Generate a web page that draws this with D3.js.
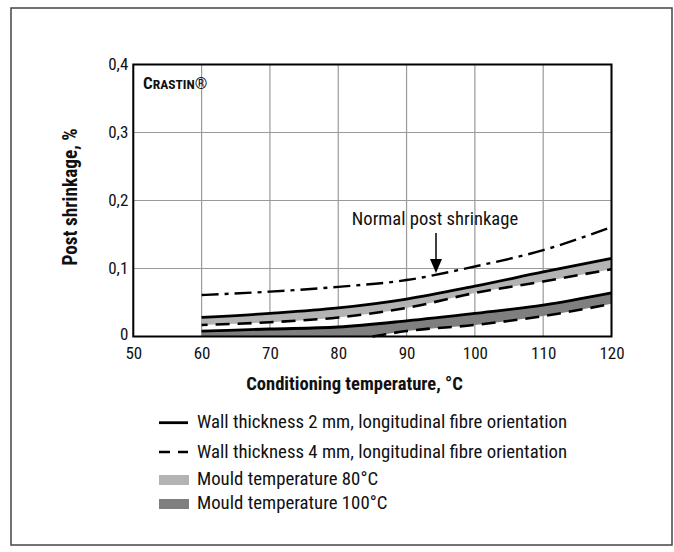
<!DOCTYPE html>
<html><head><meta charset="utf-8">
<script src="https://cdn.jsdelivr.net/npm/d3@7"></script>
<style>
html,body{margin:0;padding:0;background:#fff;}
svg text{font-family:"Liberation Sans Narrow","Roboto Condensed","Arial Narrow",sans-serif;fill:#111;}
</style></head><body>
<svg id="c" width="674" height="552"></svg>
<script>
// ---- data ----
const temps = [60, 70, 80, 90, 100, 110, 120];
const normalPost = [0.061, 0.066, 0.073, 0.083, 0.103, 0.127, 0.161];
const wall2Mould80 = [0.028, 0.034, 0.042, 0.055, 0.074, 0.095, 0.115];
const wall4Mould80 = [0.017, 0.021, 0.028, 0.042, 0.064, 0.081, 0.099];
const wall2Mould100 = [0.008, 0.011, 0.014, 0.023, 0.034, 0.046, 0.064];
const temps4Mould100 = [85, 90, 100, 110, 120];
const wall4Mould100 = [0.0, 0.008, 0.017, 0.030, 0.048];
const xTicks = [50, 60, 70, 80, 90, 100, 110, 120];
const yTicks = [0, 0.1, 0.2, 0.3, 0.4];
const yTickLabels = ["0", "0,1", "0,2", "0,3", "0,4"];
const legendItems = ["Wall thickness 2 mm, longitudinal fibre orientation",
  "Wall thickness 4 mm, longitudinal fibre orientation",
  "Mould temperature 80°C", "Mould temperature 100°C"];

const svg = d3.select("#c");
const L = 133.3, R = 611.5, T = 64.5, B = 336.5;
const x = d3.scaleLinear().domain([50, 120]).range([L, R]);
const y = d3.scaleLinear().domain([0, 0.4]).range([B, T]);

// outer frame
svg.append("rect").attr("x", 11).attr("y", 8).attr("width", 661).attr("height", 537)
  .attr("fill", "none").attr("stroke", "#444").attr("stroke-width", 1.5);

// grid
const g = svg.append("g");
g.selectAll("line.vx").data(xTicks).join("line")
  .attr("x1", d => x(d)).attr("x2", d => x(d)).attr("y1", T).attr("y2", B)
  .attr("stroke", "#9a9a9a").attr("stroke-width", 1.2);
g.selectAll("line.hy").data(yTicks).join("line")
  .attr("y1", d => y(d)).attr("y2", d => y(d)).attr("x1", L).attr("x2", R)
  .attr("stroke", "#9a9a9a").attr("stroke-width", 1.2);

const curve = d3.curveMonotoneX;
const pts = (xs, ys) => xs.map((t, i) => [t, ys[i]]);

// bands
const area = d3.area().x(d => x(d[0])).y0(d => y(d[2])).y1(d => y(d[1])).curve(curve);
g.append("path").datum(temps.map((t, i) => [t, wall2Mould80[i], wall4Mould80[i]]))
  .attr("d", area).attr("fill", "#b3b3b3");
const line = d3.line().x(d => x(d[0])).y(d => y(d[1])).curve(curve);
const topD = line(pts(temps, wall2Mould100));
const botD = line(pts(temps4Mould100, wall4Mould100).reverse());
g.append("path")
  .attr("d", topD + "L" + botD.slice(1) + "L" + x(temps[0]) + "," + y(0) + "Z")
  .attr("fill", "#7f7f7f");

// lines
g.append("path").attr("d", line(pts(temps, normalPost))).attr("fill", "none")
  .attr("stroke", "#000").attr("stroke-width", 2.4).attr("stroke-dasharray", "17,6,4,6");
g.append("path").attr("d", line(pts(temps, wall2Mould80))).attr("fill", "none")
  .attr("stroke", "#000").attr("stroke-width", 2.8);
g.append("path").attr("d", line(pts(temps, wall4Mould80))).attr("fill", "none")
  .attr("stroke", "#000").attr("stroke-width", 2.6).attr("stroke-dasharray", "14,8")
  .attr("stroke-dashoffset", -14);
g.append("path").attr("d", line(pts(temps, wall2Mould100))).attr("fill", "none")
  .attr("stroke", "#000").attr("stroke-width", 2.8);
g.append("path").attr("d", line(pts(temps4Mould100, wall4Mould100))).attr("fill", "none")
  .attr("stroke", "#000").attr("stroke-width", 2.6).attr("stroke-dasharray", "14,8");

// plot frame
svg.append("rect").attr("x", L).attr("y", T).attr("width", R - L).attr("height", B - T)
  .attr("fill", "none").attr("stroke", "#000").attr("stroke-width", 2);

// axes
const xAxis = d3.axisBottom(x).tickValues(xTicks).tickSize(0).tickPadding(10).tickFormat(d3.format("d"));
const xa = svg.append("g").attr("transform", `translate(0,${B})`).call(xAxis);
xa.select(".domain").remove();
xa.selectAll("text").attr("font-size", 17).attr("fill", "#111");
const yAxis = d3.axisLeft(y).tickValues(yTicks).tickSize(0).tickPadding(5)
  .tickFormat((d, i) => yTickLabels[i]);
const ya = svg.append("g").attr("transform", `translate(${L},0)`).call(yAxis);
ya.select(".domain").remove();
ya.selectAll("text").attr("font-size", 17).attr("fill", "#111")
  .attr("dy", (d, i) => i === 0 ? "0.2em" : "0.32em");

svg.append("text").attr("x", 354.5).attr("y", 390).attr("text-anchor", "middle")
  .attr("font-size", 18.6).attr("font-weight", "bold").text("Conditioning temperature, °C");
svg.append("text").attr("transform", `translate(77,197) rotate(-90)`).attr("text-anchor", "middle")
  .attr("font-size", 19.3).attr("font-weight", "bold").text("Post shrinkage, %");

// brand
const br = svg.append("text").attr("x", 143).attr("y", 89).attr("font-weight", "bold");
br.append("tspan").attr("font-size", 17).text("C");
br.append("tspan").attr("font-size", 13.5).text("RASTIN");
br.append("tspan").attr("font-size", 16).attr("font-weight", "normal").text("®");

// annotation
svg.append("text").attr("x", 435).attr("y", 225).attr("text-anchor", "middle")
  .attr("font-size", 18.6).text("Normal post shrinkage");
svg.append("line").attr("x1", 436).attr("x2", 436).attr("y1", 233).attr("y2", 262)
  .attr("stroke", "#000").attr("stroke-width", 1.5);
svg.append("path").attr("d", "M430,259 L442,259 L436,273 Z").attr("fill", "#000");

// legend
const lg = svg.append("g");
const rowsY = [422.7, 452, 480, 504];
const baseOff = [5.5, 5.7, 4.5, 4.5];
lg.append("line").attr("x1", 159).attr("x2", 188).attr("y1", rowsY[0]).attr("y2", rowsY[0])
  .attr("stroke", "#000").attr("stroke-width", 2.8);
lg.append("line").attr("x1", 159).attr("x2", 188).attr("y1", rowsY[1]).attr("y2", rowsY[1])
  .attr("stroke", "#000").attr("stroke-width", 2.6).attr("stroke-dasharray", "11,8");
lg.append("rect").attr("x", 159).attr("y", rowsY[2] - 5).attr("width", 30).attr("height", 10).attr("fill", "#b3b3b3");
lg.append("rect").attr("x", 159).attr("y", rowsY[3] - 5).attr("width", 30).attr("height", 10).attr("fill", "#7f7f7f");
lg.selectAll("text").data(legendItems).join("text")
  .attr("x", 197).attr("y", (d, i) => rowsY[i] + baseOff[i]).attr("font-size", 18.8).text(d => d);
</script></body></html>
